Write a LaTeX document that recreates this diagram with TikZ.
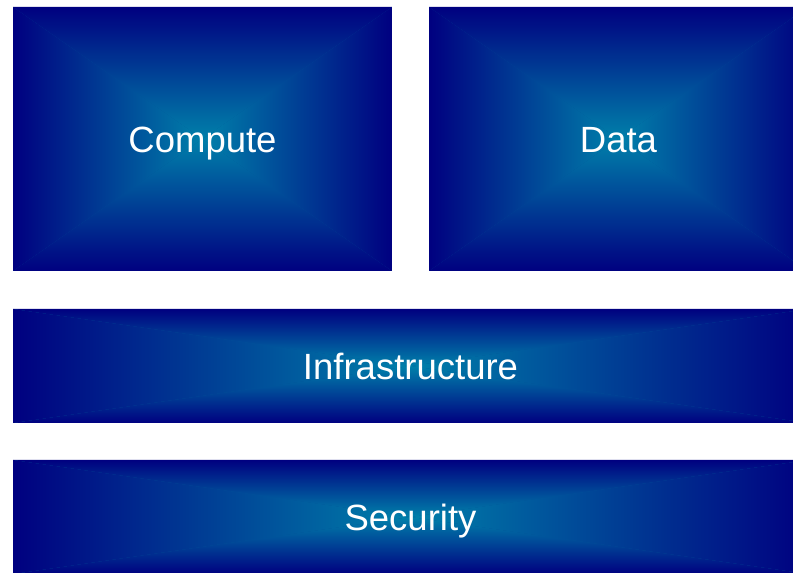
\documentclass[tikz,border=0pt]{standalone}
\usepackage{fontspec}
\setmainfont{Liberation Sans}
\definecolor{edgeblue}{RGB}{0,0,128}
\definecolor{midblue}{RGB}{0,84,154}
\definecolor{centerblue}{RGB}{0,128,170}
\tikzset{
  pyrbox/.style={rectangle, inner sep=0pt, text=white,
    font=\fontsize{36.5}{40}\selectfont, text height=26.1pt, text depth=0pt,
    path picture={
      \fill[midblue] (path picture bounding box.south west) rectangle (path picture bounding box.north east);
      \shade[top color=edgeblue, middle color=midblue, bottom color=centerblue]
        (path picture bounding box.north west) -- (path picture bounding box.north east)
        -- (path picture bounding box.center) -- cycle;
      \shade[bottom color=edgeblue, middle color=midblue, top color=centerblue]
        (path picture bounding box.south west) -- (path picture bounding box.south east)
        -- (path picture bounding box.center) -- cycle;
      \shade[left color=edgeblue, middle color=midblue, right color=centerblue]
        (path picture bounding box.north west) -- (path picture bounding box.south west)
        -- (path picture bounding box.center) -- cycle;
      \shade[right color=edgeblue, middle color=midblue, left color=centerblue]
        (path picture bounding box.north east) -- (path picture bounding box.south east)
        -- (path picture bounding box.center) -- cycle;
    }},
}
\begin{document}
\begin{tikzpicture}[x=1pt,y=1pt]
  \useasboundingbox (0,0) rectangle (793,573);
  \clip (0,0) rectangle (793,573);
  \node[pyrbox, minimum width=379pt, minimum height=264pt] (compute) at (202.5,434) {Compute};
  \node[pyrbox, minimum width=379pt, minimum height=264pt] (data) at (618.5,434) {Data};
  \node[pyrbox, minimum width=795pt, minimum height=114pt] (infra) at (410.5,207) {Infrastructure};
  \node[pyrbox, minimum width=795pt, minimum height=114pt] (security) at (410.5,56) {Security};
\end{tikzpicture}
\end{document}
